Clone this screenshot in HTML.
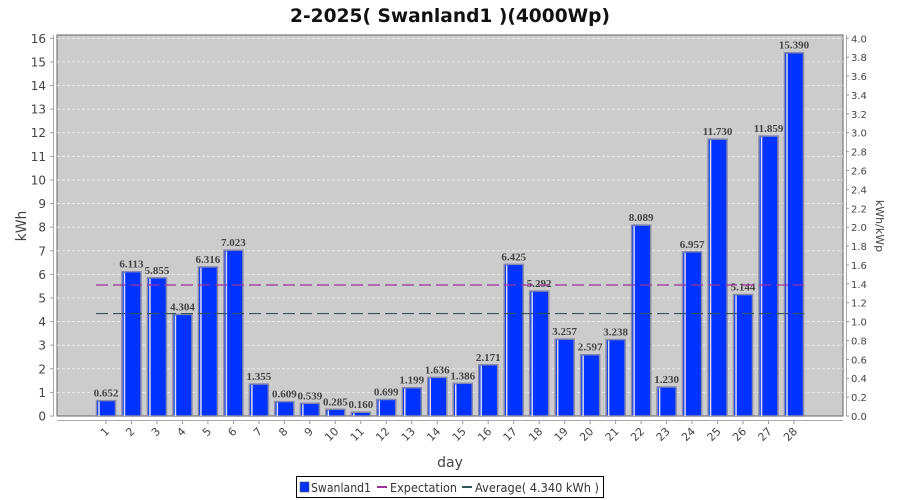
<!DOCTYPE html>
<html><head><meta charset="utf-8"><style>
body{margin:0;background:#fff;}
svg{display:block;font-family:"DejaVu Sans","Liberation Sans",sans-serif;}
</style></head><body>
<svg id="s" width="900" height="500" xmlns="http://www.w3.org/2000/svg"></svg>
<script>
const v=[0.652,6.113,5.855,4.304,6.316,7.023,1.355,0.609,0.539,0.285,0.160,0.699,1.199,1.636,1.386,2.171,6.425,5.292,3.257,2.597,3.238,8.089,1.230,6.957,11.730,5.144,11.859,15.390];
const L=57,T=35,R=843,B=416,k=(B-38.3)/16;
const y=d=>B-d*k;
let h='';
h+=`<text x="450" y="22" text-anchor="middle" font-size="19" font-weight="bold" fill="#111" textLength="320" lengthAdjust="spacingAndGlyphs">2-2025( Swanland1 )(4000Wp)</text>`;
h+=`<rect x="${L}" y="${T}" width="${R-L}" height="${B-T}" fill="#cccccc" stroke="#666" stroke-width="1"/>`;
for(let i=0;i<=16;i++){const yy=y(i);
 if(i>0)h+=`<line x1="${L}" x2="${R}" y1="${yy}" y2="${yy}" stroke="#eee" stroke-dasharray="3,2" stroke-width="0.8"/>`;
 h+=`<line x1="50" x2="54" y1="${yy}" y2="${yy}" stroke="#999"/>`;
 h+=`<text x="46" y="${yy+4.5}" text-anchor="end" font-size="12" fill="#444">${i}</text>`;}
h+=`<line x1="53.5" x2="53.5" y1="${T}" y2="${B}" stroke="#aaa"/>`;
h+=`<line x1="${L}" x2="${R}" y1="420.5" y2="420.5" stroke="#aaa"/>`;
h+=`<line x1="846.5" x2="846.5" y1="${T}" y2="${B}" stroke="#aaa"/>`;
for(let i=0;i<=20;i++){const d=i*0.2,yy=B-d*4*k;
 h+=`<line x1="846" x2="849" y1="${yy}" y2="${yy}" stroke="#999"/>`;
 h+=`<text x="851" y="${yy+4}" font-size="10" fill="#444">${d.toFixed(1)}</text>`;}
h+=`<text transform="translate(26,226) rotate(-90)" text-anchor="middle" font-size="14" fill="#444">kWh</text>`;
h+=`<text transform="translate(876,226) rotate(90)" text-anchor="middle" font-size="11" fill="#444">kWh/kWp</text>`;
h+=`<text x="450" y="467" text-anchor="middle" font-size="14" fill="#444">day</text>`;
const cw=(794-106)/27;
v.forEach((d,i)=>{const c=106+i*cw,x=c-9.5,yy=y(d);
 h+=`<rect x="${x}" y="${yy}" width="19" height="${B-yy}" fill="#0033ff" stroke="#8888aa" stroke-width="1.5"/>`;
 h+=`<line x1="${x+2.5}" x2="${x+2.5}" y1="${yy+1}" y2="${B}" stroke="#dde" stroke-width="1.5"/>`;
 h+=`<text x="${c}" y="${yy-4}" text-anchor="middle" font-family="Liberation Serif,serif" font-weight="bold" font-size="11" fill="#444">${d.toFixed(3)}</text>`;
 h+=`<line x1="${c}" x2="${c}" y1="421" y2="424" stroke="#999"/>`;
 h+=`<text transform="translate(${c+4},${432}) rotate(-45)" text-anchor="end" font-size="11" fill="#444">${i+1}</text>`;});
h+=`<line x1="96" x2="804" y1="285" y2="285" stroke="#993399" stroke-width="1.2" stroke-dasharray="12,5"/>`;
h+=`<line x1="96" x2="804" y1="${y(4.34)}" y2="${y(4.34)}" stroke="#335555" stroke-width="1.2" stroke-dasharray="12,5"/>`;
h+=`<rect x="296.5" y="476.5" width="307" height="21" fill="#fff" stroke="#000"/>`;
h+=`<rect x="300" y="482" width="9" height="10" fill="#0033ff" stroke="#555" stroke-width="0.6"/>`;
h+=`<text x="311" y="492" font-size="12" fill="#333" textLength="60" lengthAdjust="spacingAndGlyphs">Swanland1</text>`;
h+=`<line x1="377" x2="387" y1="487" y2="487" stroke="#993399" stroke-width="2"/>`;
h+=`<text x="390" y="492" font-size="12" fill="#333" textLength="67" lengthAdjust="spacingAndGlyphs">Expectation</text>`;
h+=`<line x1="462" x2="472" y1="487" y2="487" stroke="#335555" stroke-width="2"/>`;
h+=`<text x="475" y="492" font-size="12" fill="#333" textLength="124" lengthAdjust="spacingAndGlyphs">Average( 4.340 kWh )</text>`;
document.getElementById('s').innerHTML=h;
</script>
</body></html>
